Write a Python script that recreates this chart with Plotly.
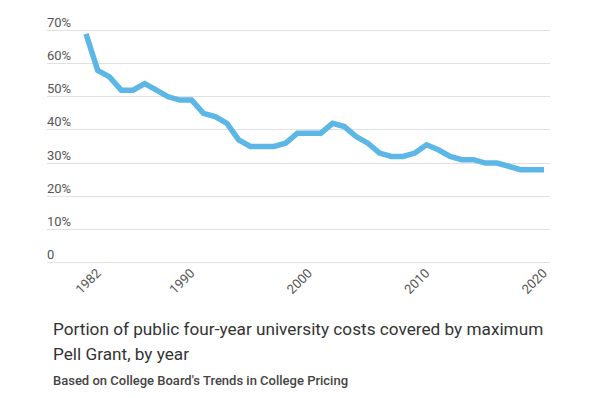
import plotly.graph_objects as go

years = list(range(1982, 2022))
share_pct = [69, 58, 56, 52, 52, 54, 52, 50, 49, 49,
             45, 44, 42, 37, 35, 35, 35, 36, 39, 39,
             39, 42, 41, 38, 36, 33, 32, 32, 33, 35.5,
             34, 32, 31, 31, 30, 30, 29, 28, 28, 28]

x_tick_years = [1982, 1990, 2000, 2010, 2020]
x_tick_labels = ["1982", "1990", "2000", "2010", "2020"]
y_tick_vals = [0, 10, 20, 30, 40, 50, 60, 70]
y_tick_labels = ["0", "10%", "20%", "30%", "40%", "50%", "60%", "70%"]

title_line1 = "Portion of public four-year university costs covered by maximum"
title_line2 = "Pell Grant, by year"
subtitle = "Based on College Board's Trends in College Pricing"

# page has an 8px body margin, so the figure is drawn 8px in from the top-left
OFF = 8
W, H = 600 - OFF, 398 - OFF
PX_PER_UNIT = 3.31
Y_MIN, Y_MAX = -2, 75
zero_py = 262.7 - OFF
MT = zero_py - Y_MAX * PX_PER_UNIT
MB = H - (zero_py - Y_MIN * PX_PER_UNIT)
ML, MR = 47 - OFF, W - (550 - OFF)
plot_h = H - MT - MB
plot_w = W - ML - MR


def py_to_paper(py):
    return (H - MB - (py - OFF)) / plot_h


def px_to_paper(px):
    return (px - OFF - ML) / plot_w


fig = go.Figure()
fig.add_trace(go.Scatter(
    x=years, y=share_pct, mode="lines",
    line=dict(color="#5db7e6", width=5.5),
    hoverinfo="skip", showlegend=False,
))

fig.update_layout(
    template="none",
    width=W, height=H,
    margin=dict(l=ML, r=MR, t=MT, b=MB, pad=0),
    paper_bgcolor="white", plot_bgcolor="white",
    font=dict(family="Roboto", color="#555555", size=13),
    xaxis=dict(
        range=[1978.68, 2021.51],
        tickvals=x_tick_years, ticktext=x_tick_labels,
        tickangle=-45, showgrid=False, zeroline=False, showline=False,
        ticks="", ticklabelshift=11, ticklabelstandoff=-7,
        tickfont=dict(size=13, color="#555555"),
        automargin=False, fixedrange=True,
    ),
    yaxis=dict(
        range=[Y_MIN, Y_MAX],
        tickvals=y_tick_vals, ticktext=y_tick_labels,
        ticklabelposition="inside", ticklabelshift=-8, ticklabelstandoff=-3,
        showgrid=True, gridcolor="#e0e0e0", gridwidth=1,
        zeroline=False, showline=False, ticks="",
        tickfont=dict(size=13, color="#555555"),
        automargin=False, fixedrange=True,
    ),
)

fig.add_annotation(text=title_line1, xref="paper", yref="paper",
                   x=px_to_paper(51), y=py_to_paper(329),
                   xanchor="left", yanchor="middle", showarrow=False,
                   font=dict(family="Roboto", size=17.2, color="#333333"))
fig.add_annotation(text=title_line2, xref="paper", yref="paper",
                   x=px_to_paper(51), y=py_to_paper(354),
                   xanchor="left", yanchor="middle", showarrow=False,
                   font=dict(family="Roboto", size=17.2, color="#333333"))
fig.add_annotation(text=subtitle, xref="paper", yref="paper",
                   x=px_to_paper(51), y=py_to_paper(381),
                   xanchor="left", yanchor="middle", showarrow=False,
                   font=dict(family="Roboto", size=13, color="#444444", weight=500))

fig.write_html("out.html")
